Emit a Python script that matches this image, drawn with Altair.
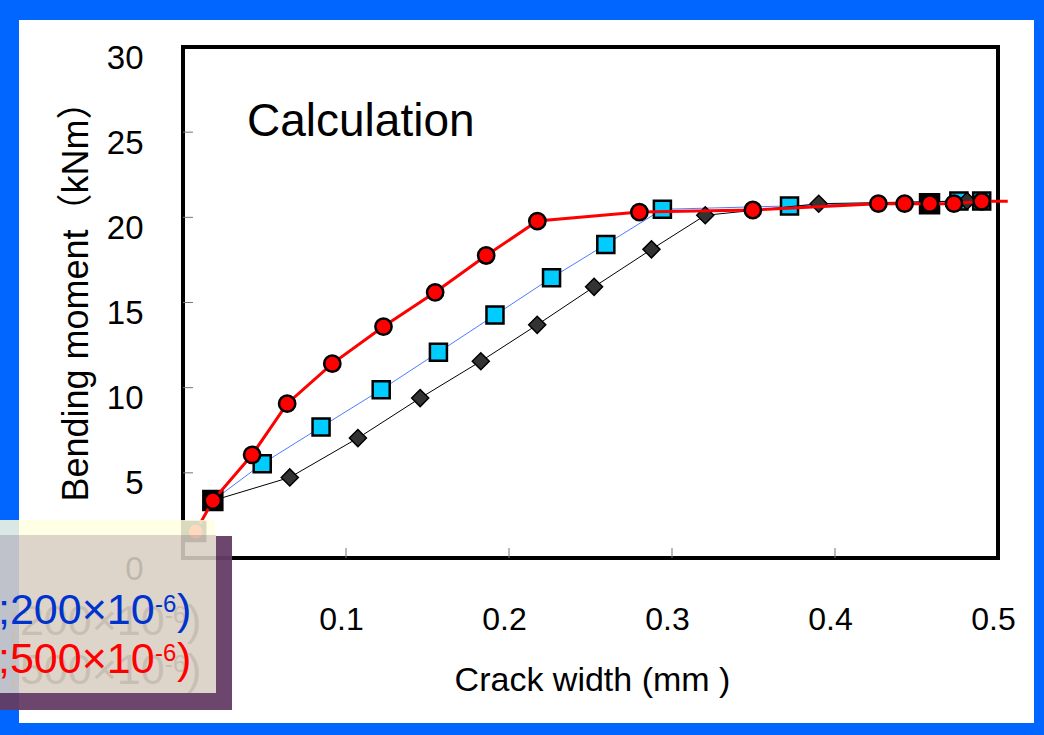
import altair as alt
import pandas as pd

# Calculated bending moment vs crack width, three strain cases
red_x = [0.0078, 0.0183, 0.0424, 0.0639, 0.0916, 0.1230, 0.1547, 0.1860, 0.2174,
         0.2800, 0.3496, 0.4266, 0.4427, 0.4582, 0.4730, 0.4900]
red_y = [1.55, 3.37, 6.06, 9.06, 11.41, 13.59, 15.60, 17.76, 19.78,
         20.31, 20.43, 20.80, 20.80, 20.80, 20.80, 20.94]
red_tail_x = [0.506]
red_tail_y = [20.94]

blue_x = [0.0183, 0.0486, 0.0847, 0.1216, 0.1567, 0.1914, 0.2261, 0.2594,
          0.2941, 0.3721, 0.4760, 0.4900]
blue_y = [3.37, 5.53, 7.69, 9.88, 12.08, 14.26, 16.45, 18.41,
          20.47, 20.67, 20.96, 20.96]

black_x = [0.0183, 0.0655, 0.1073, 0.1455, 0.1827, 0.2173, 0.2522, 0.2874,
           0.3204, 0.3900, 0.4810]
black_y = [3.37, 4.73, 7.04, 9.39, 11.55, 13.69, 15.92, 18.12,
           20.12, 20.80, 20.96]

square_x = [0.0078, 0.0183, 0.4580]
square_y = [1.55, 3.37, 20.80]

x_labels = [0.1, 0.2, 0.3, 0.4, 0.5]
y_labels = [0, 5, 10, 15, 20, 25, 30]
x_inner_ticks = [0.1, 0.2, 0.3, 0.4]
y_inner_ticks = [5, 10, 15, 20, 25]

legend_main = [";200×10", ";500×10"]
legend_sup = ["-6", "-6"]
legend_colors = ["#0033CC", "#FF0000"]

FONT = "Liberation Sans, Arial, Noto Sans CJK JP, sans-serif"
W, H = 815, 511
LEFT, TOP = 183, 47

xs = alt.Scale(domain=[0, 0.5], nice=False, zero=False)
ys = alt.Scale(domain=[0, 30], nice=False, zero=False)

x_axis = alt.Axis(
    values=x_labels, title="Crack width (mm )", grid=False, domain=False, ticks=False,
    labelFont=FONT, labelFontSize=32, labelColor="black", labelPadding=46,
    labelOffset=-5, labelFlush=False, labelOverlap=False, labelBound=False,
    titleFont=FONT, titleFontSize=34, titleFontWeight="normal", titleColor="black",
    titleX=409, titleY=132, titleAlign="center", titleBaseline="alphabetic",
)
y_axis = alt.Axis(
    values=y_labels, title="Bending moment（kNm）", grid=False, domain=False, ticks=False,
    labelFont=FONT, labelFontSize=33, labelColor="black", labelPadding=40,
    labelOffset=11, labelFlush=False, labelOverlap=False, labelBound=False,
    titleFont=FONT, titleFontSize=36, titleFontWeight="normal", titleColor="black",
    titleAngle=270, titleX=-96, titleY=245, titleAlign="center",
    titleBaseline="alphabetic",
)


def X(field="x"):
    return alt.X(f"{field}:Q", scale=xs, axis=x_axis)


def Y(field="y"):
    return alt.Y(f"{field}:Q", scale=ys, axis=y_axis)


one = pd.DataFrame({"k": [0]})

# blue window frame around the slide panel
frame = alt.Chart(one).mark_rect(filled=False, stroke="#0066FF", strokeWidth=40).encode(
    x=alt.value(-184), x2=alt.value(871), y=alt.value(-47), y2=alt.value(696)
)

# inward-pointing tick marks
ytick_df = pd.DataFrame({"y": y_inner_ticks})
xtick_df = pd.DataFrame({"x": x_inner_ticks})
yticks = alt.Chart(ytick_df).mark_rule(color="#777777", strokeWidth=1).encode(
    y=Y(), x=alt.value(0), x2=alt.value(10)
)
xticks = alt.Chart(xtick_df).mark_rule(color="#777777", strokeWidth=1).encode(
    x=X(), y=alt.value(H), y2=alt.value(H - 10)
)

blue_df = pd.DataFrame({"x": blue_x, "y": blue_y})
black_df = pd.DataFrame({"x": black_x, "y": black_y})
red_df = pd.DataFrame({"x": red_x, "y": red_y})
red_line_df = pd.DataFrame({"x": red_x + red_tail_x, "y": red_y + red_tail_y})
sq_df = pd.DataFrame({"x": square_x, "y": square_y})

blue_line = alt.Chart(blue_df).mark_line(color="#4D7CFF", strokeWidth=1).encode(x=X(), y=Y())
blue_pts = alt.Chart(blue_df).mark_point(
    shape="square", filled=True, fill="#00CCFF", stroke="black", strokeWidth=2.5,
    size=290, opacity=1
).encode(x=X(), y=Y())

black_line = alt.Chart(black_df).mark_line(color="black", strokeWidth=1).encode(x=X(), y=Y())
black_pts = alt.Chart(black_df).mark_point(
    shape="diamond", filled=True, fill="#333333", stroke="black", strokeWidth=1.5,
    size=290, opacity=1
).encode(x=X(), y=Y())

sq_pts = alt.Chart(sq_df).mark_point(
    shape="square", filled=True, fill="black", stroke="black", strokeWidth=2,
    size=380, opacity=1
).encode(x=X(), y=Y())

red_line = alt.Chart(red_line_df).mark_line(color="#FF0000", strokeWidth=3).encode(x=X(), y=Y())
red_pts = alt.Chart(red_df).mark_point(
    shape="circle", filled=True, fill="#FF0000", stroke="black", strokeWidth=2.5,
    size=265, opacity=1
).encode(x=X(), y=Y())

label = alt.Chart(one).mark_text(
    text="Calculation", font=FONT, fontSize=46, align="left", baseline="alphabetic",
    color="black"
).encode(x=alt.value(64), y=alt.value(89))

# translucent legend box laid over the lower-left corner
strip = alt.Chart(one).mark_rect(color="#FFFFE0", opacity=0.85).encode(
    x=alt.value(-183), x2=alt.value(32), y=alt.value(473), y2=alt.value(488)
)
box = alt.Chart(one).mark_rect(color="#D9CFC3", opacity=0.88).encode(
    x=alt.value(-183), x2=alt.value(33), y=alt.value(488), y2=alt.value(646)
)
shadow_r = alt.Chart(one).mark_rect(color="#643C64", opacity=0.95).encode(
    x=alt.value(33), x2=alt.value(49), y=alt.value(489), y2=alt.value(663)
)
shadow_b = alt.Chart(one).mark_rect(color="#643C64", opacity=0.95).encode(
    x=alt.value(-183), x2=alt.value(33), y=alt.value(646), y2=alt.value(663)
)


def legend_line(main, sup, color, x0, base):
    parts = [
        (main, 43, x0, base),
        (sup, 24, x0 + 157, base - 12),
        (")", 43, x0 + 179, base),
    ]
    out = []
    for txt, size, px, py in parts:
        out.append(
            alt.Chart(one).mark_text(
                text=txt, font=FONT, fontSize=size, align="left",
                baseline="alphabetic", color=color
            ).encode(x=alt.value(px), y=alt.value(py))
        )
    return out


legend_layers = []
bases = [577, 626]
for main, sup, base in zip(legend_main, legend_sup, bases):
    legend_layers += legend_line(main, sup, "#C8BFB4", -175, base + 11)
for main, sup, color, base in zip(legend_main, legend_sup, legend_colors, bases):
    legend_layers += legend_line(main, sup, color, -185, base)

chart = alt.layer(
    frame, yticks, xticks,
    blue_line, blue_pts, black_line, black_pts, sq_pts, red_line, red_pts,
    label, strip, box, shadow_r, shadow_b, *legend_layers
).properties(
    width=W, height=H,
    autosize=alt.AutoSizeParams(type="none"),
    padding={"left": LEFT, "top": TOP, "right": 1044 - LEFT - W, "bottom": 735 - TOP - H},
    background="white",
).configure_view(
    stroke="black", strokeWidth=4
)

chart.save("out.html", embed_options={"renderer": "svg", "actions": False})
